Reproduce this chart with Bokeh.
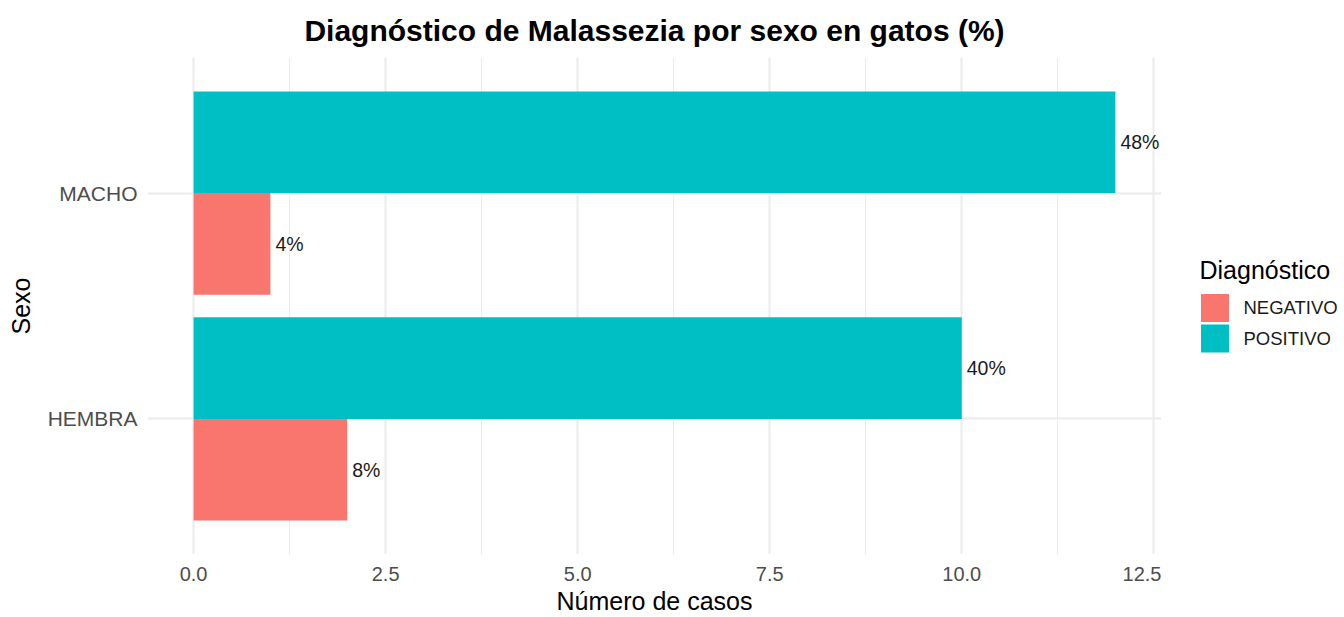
from bokeh.plotting import figure
from bokeh.layouts import row
from bokeh.models import ColumnDataSource, Range1d, FixedTicker
from bokeh.core.properties import value
from bokeh.embed import file_html
from bokeh.resources import INLINE

# Data
sexos = ["HEMBRA", "MACHO"]
diagnosticos = ["NEGATIVO", "POSITIVO"]
negativo = [2, 1]
positivo = [10, 12]
pct_negativo = ["8%", "4%"]
pct_positivo = ["40%", "48%"]
colores = {"NEGATIVO": "#F8766D", "POSITIVO": "#00BFC4"}
x_ticks = [0, 2.5, 5, 7.5, 10, 12.5]
x_tick_labels = ["0.0", "2.5", "5.0", "7.5", "10.0", "12.5"]

FONT = "Liberation Sans"
pos_idx = {s: i + 1 for i, s in enumerate(sexos)}
bar_h = 0.45

src_neg = ColumnDataSource(dict(
    y=[pos_idx[s] - bar_h / 2 for s in sexos], x=negativo, lab=pct_negativo))
src_pos = ColumnDataSource(dict(
    y=[pos_idx[s] + bar_h / 2 for s in sexos], x=positivo, lab=pct_positivo))

p = figure(width=1161, height=617, output_backend="svg", toolbar_location=None,
           x_range=Range1d(-0.6, 12.6), y_range=Range1d(0.4, 2.6),
           min_border_left=147, min_border_right=0, min_border_top=57,
           min_border_bottom=57)
p.outline_line_color = None
p.background_fill_color = "white"
p.border_fill_color = "white"

r_neg = p.hbar(y="y", right="x", left=0, height=bar_h, source=src_neg,
               fill_color=colores["NEGATIVO"], line_color=None)
r_pos = p.hbar(y="y", right="x", left=0, height=bar_h, source=src_pos,
               fill_color=colores["POSITIVO"], line_color=None)

for src in (src_neg, src_pos):
    p.text(x="x", y="y", text="lab", source=src, x_offset=5,
           text_align="left", text_baseline="middle",
           text_font=value(FONT), text_font_size="19.5px", text_color="#1A1A1A")

# Title
p.title.text = "Diagnóstico de Malassezia por sexo en gatos (%)"
p.title.align = "center"
p.title.text_font = FONT
p.title.text_font_size = "30px"
p.title.text_font_style = "bold"
p.title.text_color = "#000000"
p.title.standoff = 22

# X axis
xa = p.xaxis[0]
xa.ticker = FixedTicker(ticks=x_ticks, minor_ticks=[1.25, 3.75, 6.25, 8.75, 11.25])
xa.major_label_overrides = {t: l for t, l in zip(x_ticks, x_tick_labels)}
xa.axis_label = "Número de casos"
xa.axis_line_color = None
xa.major_tick_line_color = None
xa.minor_tick_line_color = None
xa.major_tick_out = 0
xa.major_tick_in = 0
xa.minor_tick_out = 0
xa.minor_tick_in = 0
xa.major_label_standoff = 12
xa.axis_label_standoff = 3
xa.major_label_text_font = FONT
xa.major_label_text_font_size = "20px"
xa.major_label_text_color = "#4D4D4D"
xa.axis_label_text_font = FONT
xa.axis_label_text_font_size = "25px"
xa.axis_label_text_font_style = "normal"
xa.axis_label_text_color = "#000000"

# Y axis
ya = p.yaxis[0]
ya.ticker = FixedTicker(ticks=[1, 2])
ya.major_label_overrides = {pos_idx[s]: s for s in sexos}
ya.axis_label = "Sexo"
ya.axis_line_color = None
ya.major_tick_line_color = None
ya.minor_tick_line_color = None
ya.major_tick_out = 0
ya.major_tick_in = 0
ya.minor_tick_out = 0
ya.minor_tick_in = 0
ya.major_label_standoff = 10
ya.axis_label_standoff = 10
ya.major_label_text_font = FONT
ya.major_label_text_font_size = "21px"
ya.major_label_text_color = "#4D4D4D"
ya.axis_label_text_font = FONT
ya.axis_label_text_font_size = "25px"
ya.axis_label_text_font_style = "normal"
ya.axis_label_text_color = "#000000"

# Grids
p.xgrid.grid_line_color = "#EBEBEB"
p.xgrid.grid_line_width = 2
p.xgrid.minor_grid_line_color = "#EBEBEB"
p.xgrid.minor_grid_line_width = 1
p.ygrid.grid_line_color = "#EBEBEB"
p.ygrid.grid_line_width = 2

# Legend panel (separate figure; its frame is aligned with the main frame,
# so the y range is set so data units equal page pixels)
lg = figure(width=183, height=617, output_backend="svg", toolbar_location=None,
            x_range=Range1d(0, 183), y_range=Range1d(560, 57),
            x_axis_type=None, y_axis_type=None,
            min_border_left=0, min_border_right=0, min_border_top=57,
            min_border_bottom=57)
lg.outline_line_color = None
lg.xgrid.visible = False
lg.ygrid.visible = False
lg.border_fill_color = "white"

key_src = ColumnDataSource(dict(
    x=[53.5, 53.5], y=[310.5, 341.5], lab=diagnosticos,
    color=[colores[d] for d in diagnosticos], lx=[82, 82]))
lg.rect(x="x", y="y", width=28, height=28, width_units="screen",
        height_units="screen", source=key_src,
        fill_color="color", line_color=None)
lg.text(x="lx", y="y", text="lab", source=key_src, text_align="left",
        text_baseline="middle", text_font=value(FONT),
        text_font_size="18.5px", text_color="#1A1A1A")
lg.text(x=[38], y=[272], text=["Diagnóstico"], text_align="left",
        text_baseline="middle", text_font=value(FONT),
        text_font_size="25px", text_color="#000000")

layout = row(p, lg, spacing=0)
open("out.html", "w").write(file_html(layout, INLINE))
